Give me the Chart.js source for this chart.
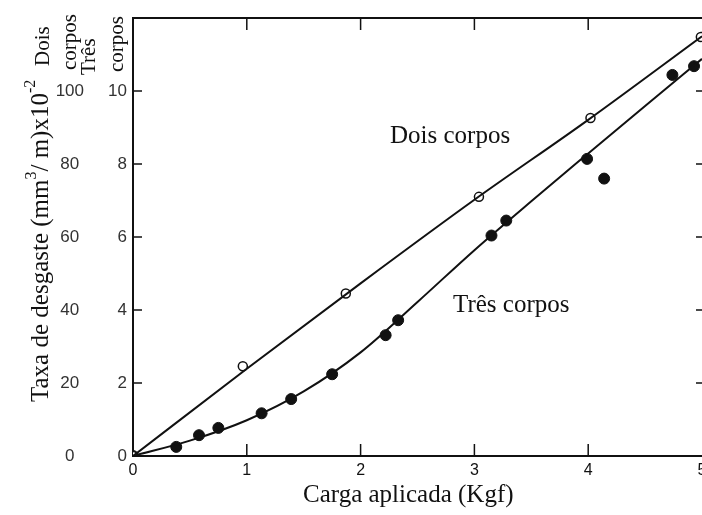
<!DOCTYPE html>
<html><head><meta charset="utf-8">
<script src="https://cdn.jsdelivr.net/npm/chart.js@4/dist/chart.umd.min.js"></script>
<style>html,body{margin:0;padding:0;background:#fff;overflow:hidden}#wrap{width:702px;height:515px;position:relative}</style>
</head><body><div id="wrap"><canvas id="c"></canvas></div>
<script>
// ---- data ----
const xTicks=[0,1,2,3,4,5];
const yTicksTres=[0,2,4,6,8,10];
const yTicksDois=[0,20,40,60,80,100];
// measured points, Dois corpos (open circles, left outer scale)
const doisX=[0,0.965,1.87,3.04,4.02,4.99];
const doisY=[0,24.6,44.5,71.0,92.6,114.8];
// measured points, Três corpos (filled circles, inner scale)
const tresX=[0,0.38,0.58,0.75,1.13,1.39,1.75,2.22,2.33,3.15,3.28,3.99,4.14,4.74,4.93];
const tresY=[0,0.25,0.57,0.77,1.17,1.56,2.24,3.31,3.72,6.04,6.45,8.14,7.60,10.44,10.68];
// fitted curves as drawn in the reference
const doisCurveX=[0,1,2,3,4,5];
const doisCurveY=[0,23.9,47.3,70.2,92.1,115];
const tresCurveX=[0,0.5,1,1.5,2,2.5,3,3.5,4,4.5,5];
const tresCurveY=[0,0.42,0.98,1.77,2.84,4.22,5.64,6.98,8.29,9.59,10.88];

const pts=(xs,ys)=>xs.map((v,i)=>({x:v,y:ys[i]}));
const INK='#111';
const SERIF='"Liberation Serif", "Times New Roman", serif';
const SANS='"Liberation Sans", Arial, sans-serif';

function vtext(ctx,segs,xBase,yStart){
  ctx.save();ctx.translate(xBase,yStart);ctx.rotate(-Math.PI/2);
  ctx.textAlign='left';ctx.textBaseline='alphabetic';
  let pos=0;
  for(const s of segs){ctx.font=s.size+'px '+SERIF;ctx.fillText(s.t,pos,-(s.raise||0));pos+=ctx.measureText(s.t).width;}
  ctx.restore();
}

const framePlugin={
  id:'frame',
  afterDraw(chart){
    const {ctx,chartArea:a,scales:{x,y}}=chart;
    ctx.save();
    ctx.strokeStyle=INK;ctx.lineWidth=2;
    ctx.beginPath();ctx.moveTo(a.left-1,a.top);ctx.lineTo(a.right,a.top);ctx.stroke();
    ctx.lineWidth=1.5;
    xTicks.slice(1,-1).forEach(v=>{const px=x.getPixelForValue(v);
      ctx.beginPath();ctx.moveTo(px,a.bottom);ctx.lineTo(px,a.bottom-12);
      ctx.moveTo(px,a.top);ctx.lineTo(px,a.top+12);ctx.stroke();});
    yTicksTres.slice(1).forEach(v=>{const py=y.getPixelForValue(v);
      ctx.beginPath();ctx.moveTo(a.left,py);ctx.lineTo(a.left+9,py);
      ctx.moveTo(a.right,py);ctx.lineTo(a.right-6,py);ctx.stroke();});
    ctx.fillStyle=INK;
    // y title with superscripts
    vtext(ctx,[{t:'Taxa de desgaste (mm',size:25},{t:'3',size:16,raise:12},{t:'/ m)x10',size:25},{t:'-2',size:16,raise:13}],48,402);
    // column headers
    vtext(ctx,[{t:'Dois',size:21}],49,66);
    vtext(ctx,[{t:'corpos',size:21}],76,70);
    vtext(ctx,[{t:'Três',size:21}],95,75);
    vtext(ctx,[{t:'corpos',size:21}],123,72);
    // horizontal texts
    ctx.font='25px '+SERIF;ctx.textAlign='left';ctx.textBaseline='alphabetic';
    ctx.fillText('Carga aplicada (Kgf)',303,502);
    ctx.fillText('Dois corpos',390,143);
    ctx.fillText('Três corpos',453,312);
    ctx.restore();
  }
};

new Chart(document.getElementById('c'),{
  type:'scatter',
  data:{datasets:[
    {label:'Dois corpos (curva)',type:'line',data:pts(doisCurveX,doisCurveY),yAxisID:'y2',borderColor:INK,borderWidth:2,pointRadius:0,cubicInterpolationMode:'monotone',fill:false},
    {label:'Três corpos (curva)',type:'line',data:pts(tresCurveX,tresCurveY),yAxisID:'y',borderColor:INK,borderWidth:2,pointRadius:0,cubicInterpolationMode:'monotone',fill:false},
    {label:'Dois corpos',data:pts(doisX,doisY),yAxisID:'y2',pointRadius:4.5,pointBackgroundColor:'#fff',pointBorderColor:INK,pointBorderWidth:1.5},
    {label:'Três corpos',data:pts(tresX,tresY),yAxisID:'y',pointRadius:5.5,pointBackgroundColor:INK,pointBorderColor:INK,pointBorderWidth:1}
  ]},
  options:{
    responsive:true,maintainAspectRatio:false,animation:false,
    layout:{autoPadding:false,padding:{top:18,right:0,bottom:0,left:0}},
    plugins:{legend:{display:false},tooltip:{enabled:false}},
    scales:{
      x:{type:'linear',min:0,max:5,
        afterBuildTicks:s=>{s.ticks=xTicks.map(v=>({value:v}));},
        grid:{display:false,drawTicks:false},border:{display:true,color:INK,width:2},
        ticks:{padding:5,font:{family:SANS,size:16},color:INK,maxRotation:0},
        afterFit:s=>{s.height=59;s.paddingLeft=0;s.paddingRight=0;}},
      y:{type:'linear',position:'left',min:0,max:12,weight:0,
        afterBuildTicks:s=>{s.ticks=yTicksTres.map(v=>({value:v}));},
        grid:{display:false,drawTicks:false},border:{display:true,color:INK,width:2},
        ticks:{padding:6,font:{family:SANS,size:17},color:'#333'},
        afterFit:s=>{s.width=43;s.paddingTop=0;s.paddingBottom=0;}},
      y2:{type:'linear',position:'left',min:0,max:120,weight:1,
        afterBuildTicks:s=>{s.ticks=yTicksDois.map(v=>({value:v}));},
        grid:{display:false,drawTicks:false},border:{display:false},
        ticks:{padding:6,crossAlign:'center',font:{family:SANS,size:17},color:'#333'},
        afterFit:s=>{s.width=90;s.paddingTop=0;s.paddingBottom=0;}}
    }
  },
  plugins:[framePlugin]
});
</script></body></html>
